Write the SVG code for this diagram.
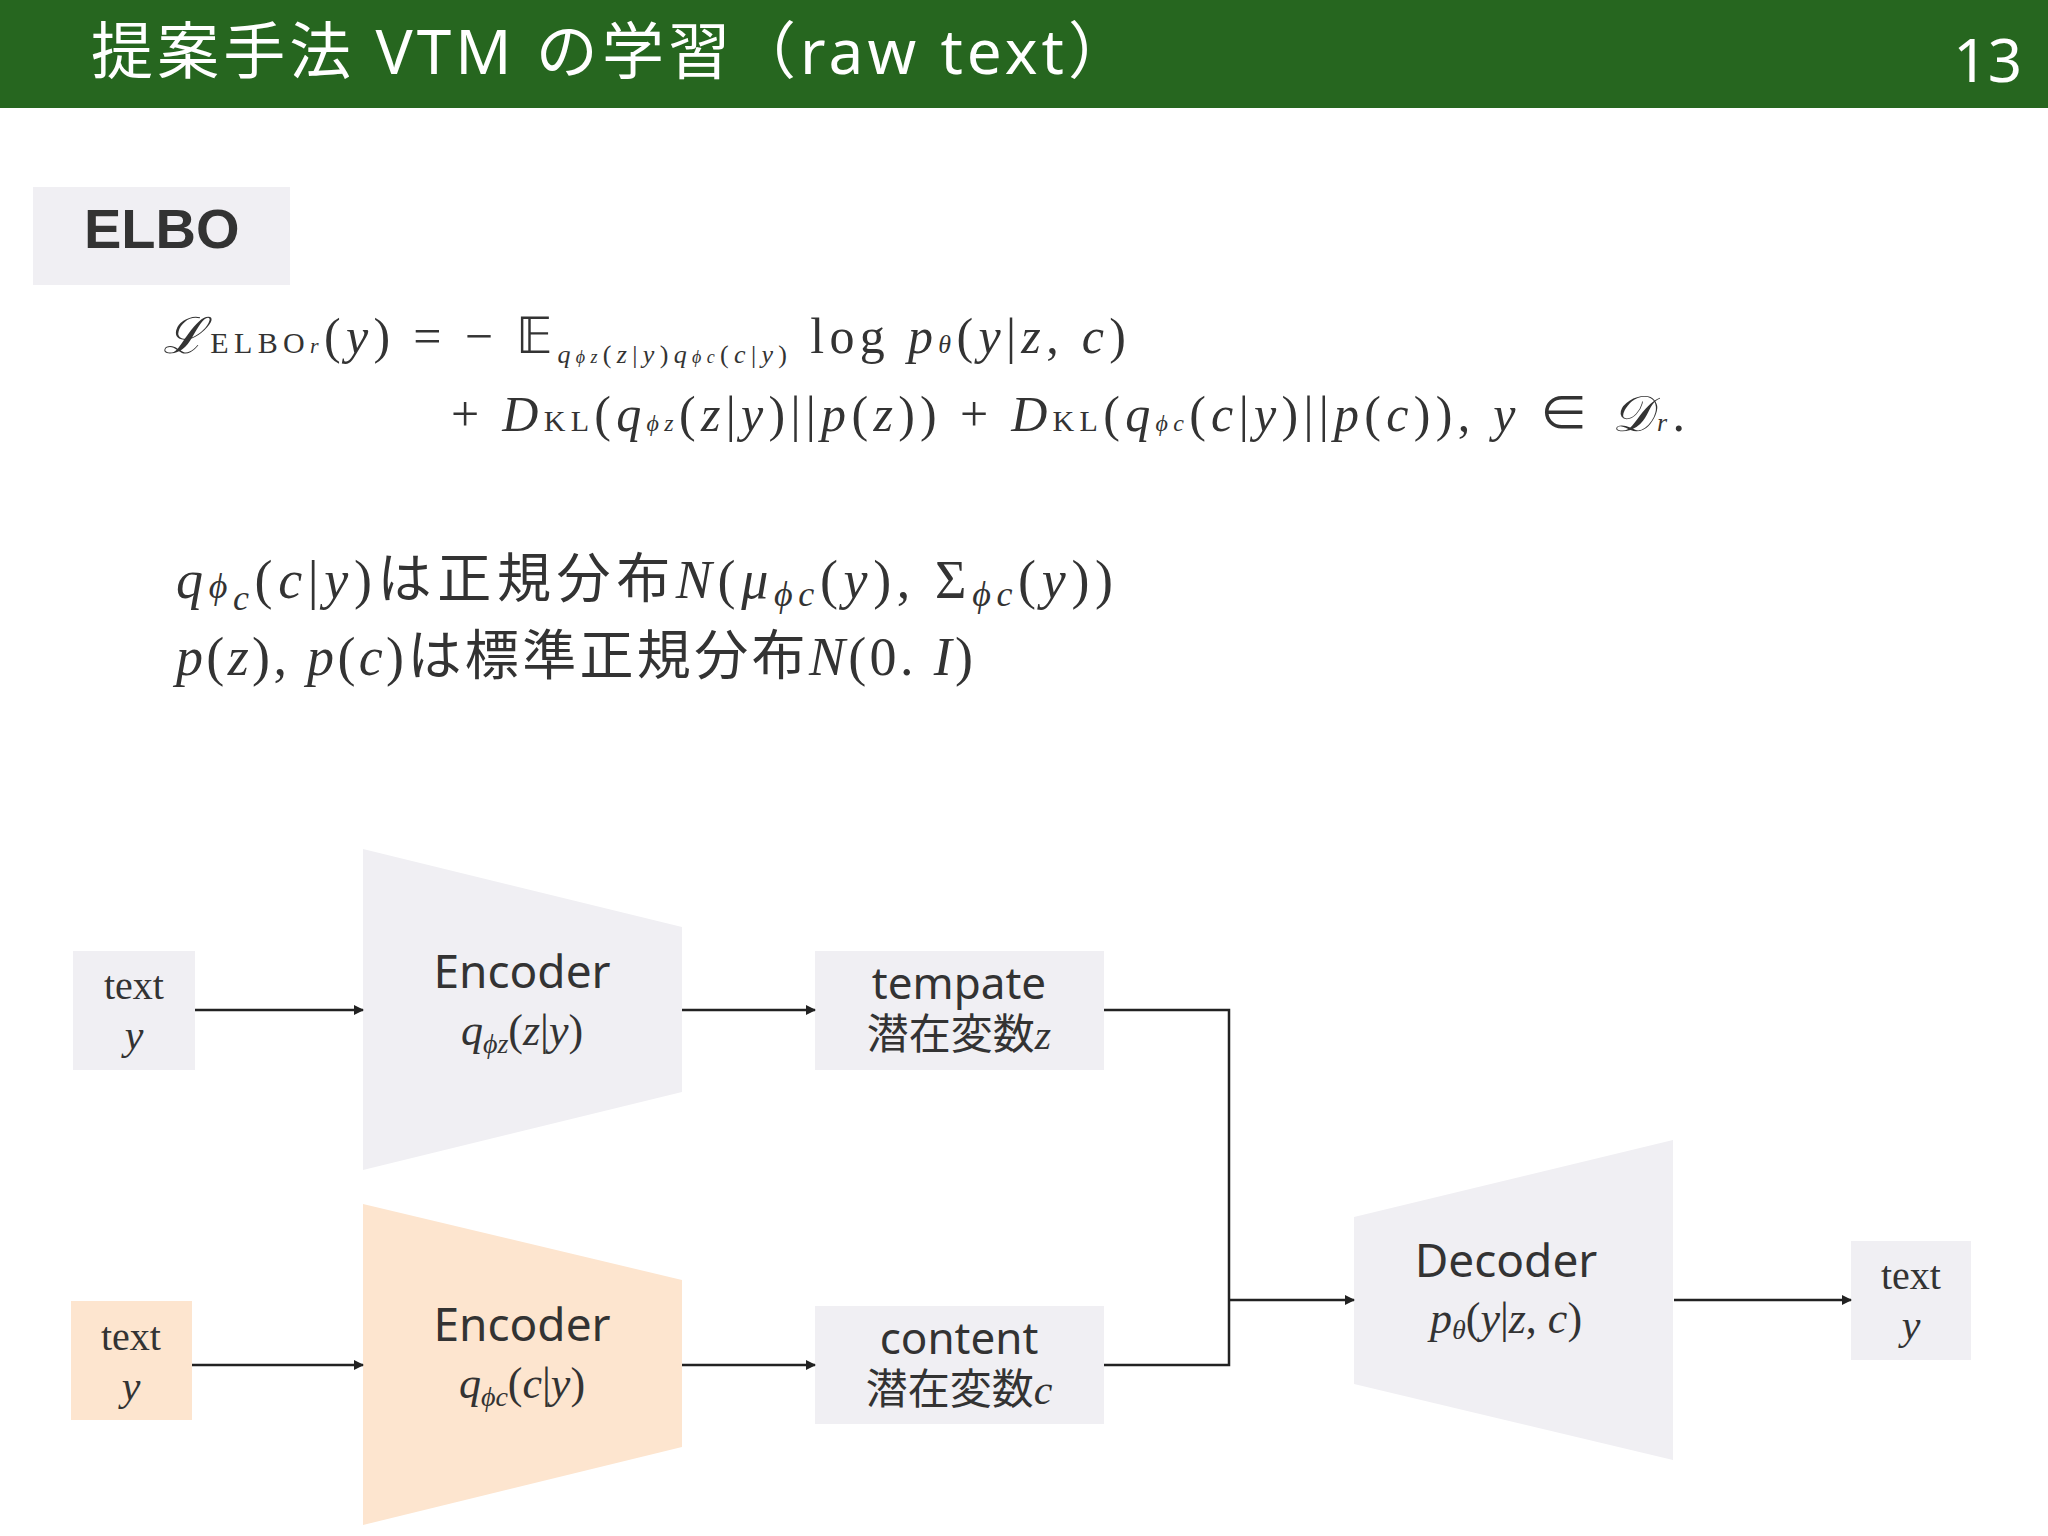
<svg xmlns="http://www.w3.org/2000/svg" width="2048" height="1536" viewBox="0 0 2048 1536">
<defs>
<marker id="ah" markerWidth="10" markerHeight="10" refX="9" refY="5" orient="auto" markerUnits="userSpaceOnUse"><path d="M0,0 L10,5 L0,10 z" fill="#222"/></marker>
<style>
.g{fill:#f0eff3}.o{fill:#fde5cf}
.s{font-family:"Noto Sans","Noto Sans CJK JP",sans-serif;fill:#333}
.m{font-family:"Liberation Serif","Noto Sans CJK JP",serif;fill:#333}
.i{font-style:italic}
.c{stroke:#222;stroke-width:2.5;fill:none}
</style>
</defs>
<rect width="2048" height="1536" fill="#fff"/>
<rect width="2048" height="108" fill="#26661f"/>
<text x="91" y="74" class="s" font-size="62" textLength="1039" lengthAdjust="spacing" style="fill:#fff">提案手法 VTM の学習（raw text）</text>
<text x="2022" y="82" class="s" font-size="60" text-anchor="end" style="fill:#fff">13</text>
<rect x="33" y="187" width="257" height="98" class="g"/>
<text x="84" y="248" font-family="Liberation Sans,sans-serif" font-weight="bold" font-size="56" fill="#333">ELBO</text>
<text x="163" y="353" class="m" font-size="50" textLength="963" lengthAdjust="spacing"><tspan class="i">ℒ</tspan><tspan font-size="30">ELBO</tspan><tspan font-size="22" class="i">r</tspan>(<tspan class="i">y</tspan>) = − 𝔼<tspan font-size="26" class="i" dy="10">q</tspan><tspan font-size="18" class="i">ϕz</tspan><tspan font-size="26">(<tspan class="i">z</tspan>|<tspan class="i">y</tspan>)<tspan class="i">q</tspan></tspan><tspan font-size="18" class="i">ϕc</tspan><tspan font-size="26">(<tspan class="i">c</tspan>|<tspan class="i">y</tspan>)</tspan><tspan dy="-10"> log </tspan><tspan class="i">p</tspan><tspan font-size="26" class="i">θ</tspan>(<tspan class="i">y</tspan>|<tspan class="i">z</tspan>, <tspan class="i">c</tspan>)</text>
<text x="451" y="431" class="m" font-size="50" textLength="1234" lengthAdjust="spacing">+ <tspan class="i">D</tspan><tspan font-size="30">KL</tspan>(<tspan class="i">q</tspan><tspan font-size="24" class="i">ϕz</tspan>(<tspan class="i">z</tspan>|<tspan class="i">y</tspan>)||<tspan class="i">p</tspan>(<tspan class="i">z</tspan>)) + <tspan class="i">D</tspan><tspan font-size="30">KL</tspan>(<tspan class="i">q</tspan><tspan font-size="24" class="i">ϕc</tspan>(<tspan class="i">c</tspan>|<tspan class="i">y</tspan>)||<tspan class="i">p</tspan>(<tspan class="i">c</tspan>)),    <tspan class="i">y</tspan> ∈ <tspan class="i">𝒟</tspan><tspan font-size="26" class="i">r</tspan>.</text>
<text x="176" y="598" class="m" font-size="54" textLength="937" lengthAdjust="spacing"><tspan class="i">q</tspan><tspan font-size="36" class="i">ϕ</tspan><tspan font-size="36" class="i" dy="12">c</tspan><tspan dy="-12">(<tspan class="i">c</tspan>|<tspan class="i">y</tspan>)は正規分布<tspan class="i">N</tspan>(<tspan class="i">μ</tspan></tspan><tspan font-size="36" class="i" dy="8">ϕc</tspan><tspan dy="-8">(<tspan class="i">y</tspan>), Σ</tspan><tspan font-size="36" class="i" dy="8">ϕc</tspan><tspan dy="-8">(<tspan class="i">y</tspan>))</tspan></text>
<text x="176" y="675" class="m" font-size="54" textLength="797" lengthAdjust="spacing"><tspan class="i">p</tspan>(<tspan class="i">z</tspan>), <tspan class="i">p</tspan>(<tspan class="i">c</tspan>)は標準正規分布<tspan class="i">N</tspan>(0. <tspan class="i">I</tspan>)</text>
<g id="text1"><rect x="73" y="951" width="122" height="119" class="g"/><text x="134" y="999" class="m" font-size="40" text-anchor="middle">text</text><text x="134" y="1049" class="m i" font-size="42" text-anchor="middle">y</text></g>
<g id="enc1"><polygon points="363,849 682,927 682,1092 363,1170" class="g"/><text x="522" y="988" class="s" font-size="46" text-anchor="middle">Encoder</text><text x="522" y="1045" class="m" font-size="44" text-anchor="middle"><tspan class="i">q</tspan><tspan font-size="28" class="i" dy="8">ϕz</tspan><tspan dy="-8">(<tspan class="i">z</tspan>|<tspan class="i">y</tspan>)</tspan></text></g>
<g id="tempate"><rect x="815" y="951" width="289" height="119" class="g"/><text x="959" y="999" class="s" font-size="44" text-anchor="middle">tempate</text><text x="959" y="1049" class="m" font-size="42" text-anchor="middle">潜在変数<tspan class="i">z</tspan></text></g>
<g id="text2"><rect x="71" y="1301" width="121" height="119" class="o"/><text x="131" y="1350" class="m" font-size="40" text-anchor="middle">text</text><text x="131" y="1400" class="m i" font-size="42" text-anchor="middle">y</text></g>
<g id="enc2"><polygon points="363,1204 682,1280 682,1447 363,1525" class="o"/><text x="522" y="1341" class="s" font-size="46" text-anchor="middle">Encoder</text><text x="522" y="1398" class="m" font-size="44" text-anchor="middle"><tspan class="i">q</tspan><tspan font-size="28" class="i" dy="8">ϕc</tspan><tspan dy="-8">(<tspan class="i">c</tspan>|<tspan class="i">y</tspan>)</tspan></text></g>
<g id="content"><rect x="815" y="1306" width="289" height="118" class="g"/><text x="959" y="1354" class="s" font-size="44" text-anchor="middle">content</text><text x="959" y="1404" class="m" font-size="42" text-anchor="middle">潜在変数<tspan class="i">c</tspan></text></g>
<g id="dec"><polygon points="1354,1217 1673,1140 1673,1460 1354,1384" class="g"/><text x="1506" y="1277" class="s" font-size="46" text-anchor="middle">Decoder</text><text x="1506" y="1333" class="m" font-size="44" text-anchor="middle"><tspan class="i">p</tspan><tspan font-size="28" class="i" dy="6">θ</tspan><tspan dy="-6">(<tspan class="i">y</tspan>|<tspan class="i">z</tspan>, <tspan class="i">c</tspan>)</tspan></text></g>
<g id="text3"><rect x="1851" y="1241" width="120" height="119" class="g"/><text x="1911" y="1289" class="m" font-size="40" text-anchor="middle">text</text><text x="1911" y="1339" class="m i" font-size="42" text-anchor="middle">y</text></g>
<g id="connectors">
<line x1="195" y1="1010" x2="363" y2="1010" class="c" marker-end="url(#ah)"/>
<line x1="682" y1="1010" x2="815" y2="1010" class="c" marker-end="url(#ah)"/>
<line x1="192" y1="1365" x2="363" y2="1365" class="c" marker-end="url(#ah)"/>
<line x1="682" y1="1365" x2="815" y2="1365" class="c" marker-end="url(#ah)"/>
<polyline points="1104,1010 1229,1010 1229,1365 1104,1365" class="c"/>
<line x1="1229" y1="1300" x2="1354" y2="1300" class="c" marker-end="url(#ah)"/>
<line x1="1674" y1="1300" x2="1851" y2="1300" class="c" marker-end="url(#ah)"/>
</g>
</svg>
